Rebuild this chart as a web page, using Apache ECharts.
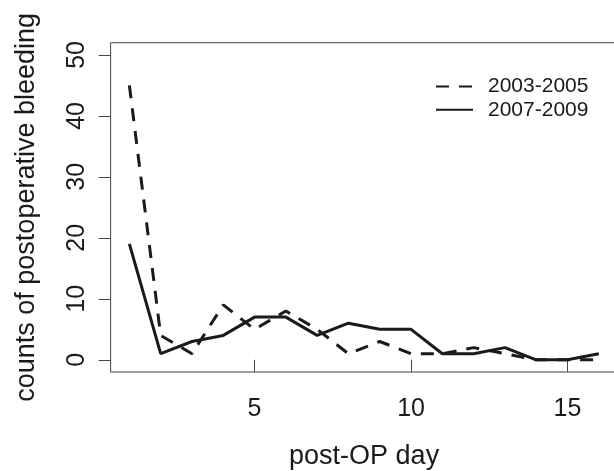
<!DOCTYPE html>
<html>
<head>
<meta charset="utf-8">
<script src="https://cdn.jsdelivr.net/npm/echarts@6/dist/echarts.min.js"></script>
<style>
  html, body { margin: 0; padding: 0; background: #fff; }
  #chart { width: 614px; height: 471px; }
</style>
</head>
<body>
<div id="chart"></div>
<script>
  const days = [1, 2, 3, 4, 5, 6, 7, 8, 9, 10, 11, 12, 13, 14, 15, 16]
  const counts0305 = [45, 4, 1, 9, 5, 8, 5, 1, 3, 1, 1, 2, 1, 0, 0, 0]
  const counts0709 = [19, 1, 3, 4, 7, 7, 4, 6, 5, 5, 1, 1, 2, 0, 0, 1]
  const xTicks = [5, 10, 15]
  const yTicks = [0, 10, 20, 30, 40, 50]

  const font = 'Liberation Sans, Arial, sans-serif'
  const ink = '#1a1a1a'
  const frame = '#444'

  const pairs = (vals) => days.map((d, i) => [d, vals[i]])

  const options = {
    animation: false,
    grid: {
      left: 110.6,
      top: 42.7,
      width: 507,
      height: 329.3,
      outerBoundsMode: 'none',
      show: true,
      borderColor: frame,
      borderWidth: 1,
    },
    legend: {
      orient: 'vertical',
      left: 430,
      top: 71,
      itemWidth: 37,
      itemHeight: 14,
      itemGap: 2.3,
      // hide the circle that line series put in the legend icon
      itemStyle: { color: 'rgba(0,0,0,0)', borderWidth: 0, opacity: 0 },
      textStyle: {
        fontFamily: font,
        fontSize: 21,
        lineHeight: 21,
        color: ink,
        padding: [0, 0, 0, 10],
      },
      data: ['2003-2005', '2007-2009'],
    },
    xAxis: {
      type: 'value',
      min: 0.4,
      max: 16.6,
      name: 'post-OP day',
      nameLocation: 'middle',
      nameGap: 71,
      nameTextStyle: { fontFamily: font, fontSize: 27, color: ink },
      axisLine: { show: false },
      splitLine: { show: false },
      axisTick: {
        show: true,
        length: 12,
        customValues: xTicks,
        lineStyle: { color: frame },
      },
      axisLabel: {
        customValues: xTicks,
        margin: 25,
        fontFamily: font,
        fontSize: 25,
        color: ink,
      },
    },
    yAxis: {
      type: 'value',
      min: -2,
      max: 52,
      name: 'counts of postoperative bleeding',
      nameLocation: 'middle',
      nameGap: 71,
      nameTextStyle: { fontFamily: font, fontSize: 27, color: ink },
      axisLine: { show: false },
      splitLine: { show: false },
      axisTick: {
        show: true,
        length: 12,
        customValues: yTicks,
        lineStyle: { color: frame },
      },
      axisLabel: {
        customValues: yTicks,
        rotate: 90,
        margin: 21,
        fontFamily: font,
        fontSize: 25,
        color: ink,
      },
    },
    series: [
      {
        name: '2003-2005',
        type: 'line',
        data: pairs(counts0305),
        symbol: 'none',
        lineStyle: { color: ink, width: 3, type: [13, 10] },
        itemStyle: { color: ink },
      },
      {
        name: '2007-2009',
        type: 'line',
        data: pairs(counts0709),
        symbol: 'none',
        lineStyle: { color: ink, width: 3 },
        itemStyle: { color: ink },
      },
    ],
  }

  const chart = echarts.init(document.getElementById('chart'))
  chart.setOption(options)
</script>
</body>
</html>
